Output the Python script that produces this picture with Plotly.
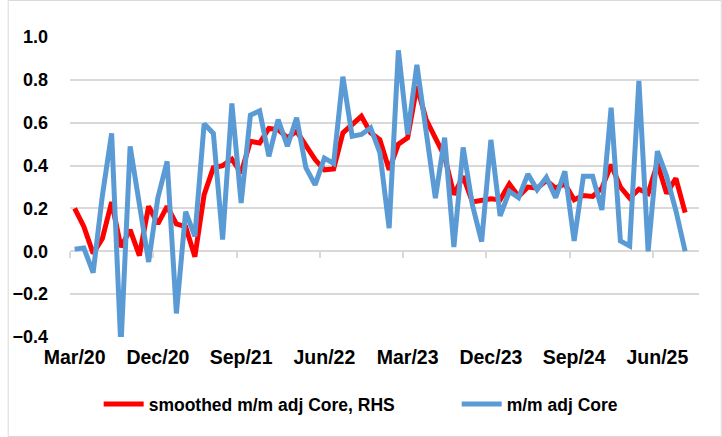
import plotly.graph_objects as go
import pandas as pd

months = list(pd.date_range("2020-03-01", periods=67, freq="MS").strftime("%b/%y"))

tick_labels = ["Mar/20", "Dec/20", "Sep/21", "Jun/22", "Mar/23", "Dec/23", "Sep/24", "Jun/25"]

smoothed = [0.20, 0.115, -0.01, 0.06, 0.23, 0.02, 0.10, -0.02, 0.21, 0.128,
            0.21, 0.128, 0.115, -0.025, 0.264, 0.39, 0.40, 0.43, 0.365, 0.513,
            0.505, 0.573, 0.568, 0.53, 0.56, 0.49, 0.428, 0.38, 0.384, 0.553,
            0.59, 0.63, 0.553, 0.52, 0.38, 0.50, 0.53, 0.77, 0.615, 0.53,
            0.443, 0.264, 0.35, 0.23, 0.24, 0.245, 0.24, 0.314, 0.256, 0.30,
            0.295, 0.33, 0.295, 0.314, 0.24, 0.26, 0.256, 0.295, 0.404, 0.30,
            0.248, 0.29, 0.27, 0.41, 0.27, 0.34, 0.18]

mm_core = [0.01, 0.015, -0.10, 0.26, 0.55, -0.45, 0.49, 0.23, -0.05, 0.25,
           0.42, -0.29, 0.185, 0.07, 0.595, 0.55, 0.055, 0.69, 0.225, 0.635,
           0.655, 0.443, 0.615, 0.49, 0.623, 0.39, 0.31, 0.435, 0.41, 0.815,
           0.537, 0.545, 0.576, 0.46, 0.108, 0.938, 0.545, 0.87, 0.56, 0.248,
           0.53, 0.02, 0.485, 0.217, 0.045, 0.52, 0.165, 0.28, 0.25, 0.36,
           0.287, 0.345, 0.25, 0.373, 0.048, 0.35, 0.35, 0.193, 0.67, 0.048,
           0.025, 0.795, 0.0, 0.467, 0.35, 0.19, 0.0]

idx = list(range(len(months)))
tick_pos = [months.index(t) for t in tick_labels]
boundary_ticks = [p - 0.5 for p in tick_pos]

FONT = "Liberation Sans, Arial, sans-serif"
GRID = "#D9D9D9"

fig = go.Figure()
fig.add_trace(go.Scatter(x=idx, y=smoothed, mode="lines", name="smoothed m/m adj Core, RHS",
                         line=dict(color="#FF0000", width=5), legend="legend"))
fig.add_trace(go.Scatter(x=idx, y=mm_core, mode="lines", name="m/m adj Core",
                         line=dict(color="#5B9BD5", width=5), legend="legend2"))
# invisible helper trace carrying the tick-mark axis at y = 0
fig.add_trace(go.Scatter(x=idx, y=smoothed, mode="lines", xaxis="x2", opacity=0,
                         line=dict(width=0), showlegend=False, hoverinfo="skip"))

fig.update_layout(
    width=722, height=437,
    margin=dict(l=63, r=23, t=37, b=100),
    paper_bgcolor="white", plot_bgcolor="white",
    font=dict(family=FONT, size=18, color="black", weight="bold"),
    xaxis=dict(range=[-0.5, 67.5], tickvals=tick_pos, ticktext=tick_labels,
               showgrid=False, zeroline=False, showline=False, ticks="",
               ticklabelstandoff=6, tickfont=dict(size=19.5, weight="bold")),
    xaxis2=dict(range=[-0.5, 67.5], overlaying="x", anchor="free", position=0.4 / 1.4,
                tickvals=[-0.5] + boundary_ticks, showticklabels=False, ticks="outside",
                ticklen=6, tickwidth=1.5, tickcolor=GRID, showgrid=False, zeroline=False,
                showline=False),
    yaxis=dict(range=[-0.4, 1.0], tickvals=[-0.4, -0.2, 0.0, 0.2, 0.4, 0.6, 0.8, 1.0],
               tickformat=".1f", showgrid=True, gridcolor=GRID, gridwidth=1.5,
               zeroline=True, zerolinecolor=GRID, zerolinewidth=1.5, ticks="",
               ticklabelstandoff=21, tickfont=dict(size=18, weight="bold")),
    legend=dict(orientation="h", x=29 / 636, y=-0.224, xanchor="left", yanchor="middle",
                font=dict(size=17.5, weight="bold"), itemwidth=40, bgcolor="rgba(0,0,0,0)"),
    legend2=dict(orientation="h", x=391 / 636, y=-0.224, xanchor="left", yanchor="middle",
                 font=dict(size=17.5, weight="bold"), itemwidth=40, bgcolor="rgba(0,0,0,0)"),
    shapes=[dict(type="rect", xref="paper", yref="paper",
                 x0=-62.5 / 636, x1=(721.5 - 63) / 636, y0=(337 - 436.5) / 300, y1=(337 - 0.5) / 300,
                 line=dict(color=GRID, width=1), fillcolor="rgba(0,0,0,0)", layer="below")],
)

fig.write_html("out.html", config={"displayModeBar": False},
               post_script="document.body.style.margin='0';")
